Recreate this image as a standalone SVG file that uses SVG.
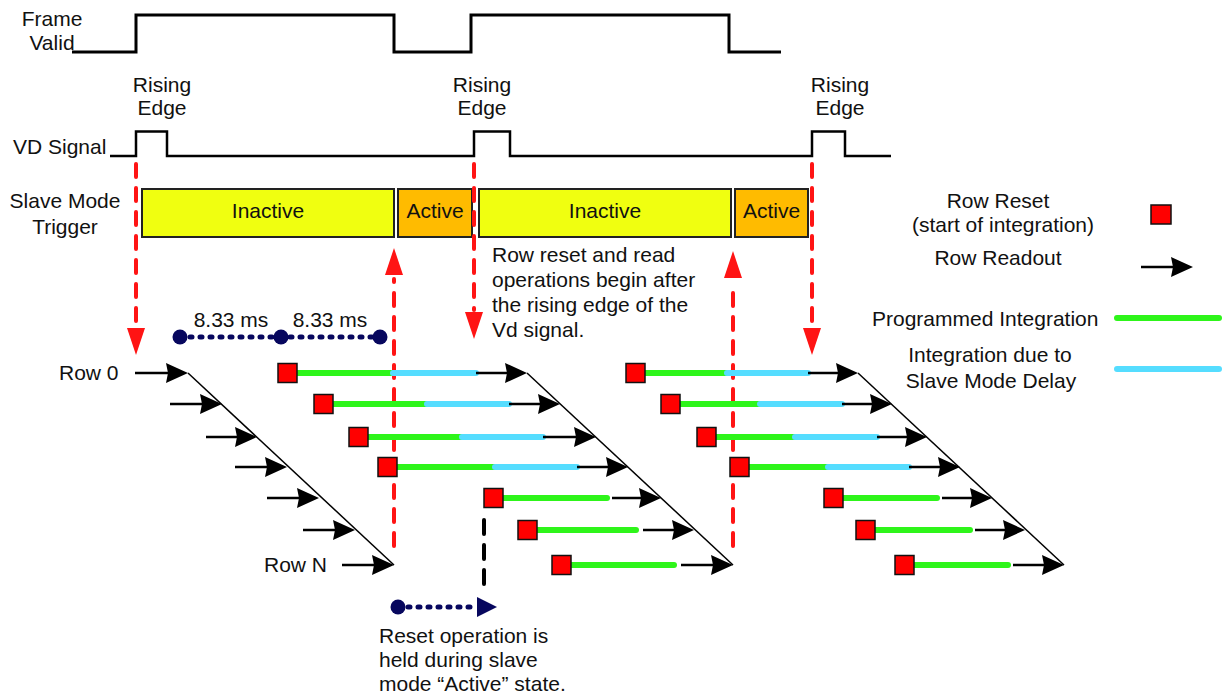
<svg xmlns="http://www.w3.org/2000/svg" width="1222" height="700" viewBox="0 0 1222 700">
<style>
text{font-family:"Liberation Sans",Arial,sans-serif;font-size:21px;fill:#111}
.mid{text-anchor:middle}
.sig{fill:none;stroke:#000;stroke-width:3}
.box{stroke:#222;stroke-width:2}
.inact{fill:#F0FF10}
.act{fill:#FFBB00}
.red{stroke:#FF1414;stroke-width:4;stroke-dasharray:13 11;stroke-linecap:round;fill:none}
.redh{fill:#FF1414}
.rd{stroke:#000;stroke-width:2.5;fill:none;marker-end:url(#ah)}
.diag{stroke:#000;stroke-width:1.5;fill:none}
.g{stroke:#2EF51A;stroke-width:6;stroke-linecap:round;fill:none}
.b{stroke:#55DDFF;stroke-width:6;stroke-linecap:round;fill:none}
.sq{fill:#FF0000;stroke:#111;stroke-width:1.5}
.navy{stroke:#07075E;stroke-width:5;stroke-dasharray:2 8;stroke-linecap:round;fill:none}
.nv{fill:#07075E}
.bd{stroke:#000;stroke-width:4;stroke-dasharray:14 11;stroke-linecap:round;fill:none}
</style>
<defs>
<marker id="ah" markerUnits="userSpaceOnUse" viewBox="0 0 22 20" refX="12" refY="10" markerWidth="22" markerHeight="20" orient="auto">
<path d="M0,0 L22,10 L0,20 L2,10 z" fill="#000"/>
</marker>
</defs>

<g id="frame-valid">
<text class="mid" x="52" y="26">Frame</text>
<text class="mid" x="52" y="50">Valid</text>
<path class="sig" d="M72,52 H136 V15 H394 V52 H471 V15 H729 V52 H781"/>
</g>

<g id="rising-labels">
<text class="mid" x="162" y="92">Rising</text>
<text class="mid" x="162" y="115">Edge</text>
<text class="mid" x="482" y="92">Rising</text>
<text class="mid" x="482" y="115">Edge</text>
<text class="mid" x="840" y="92">Rising</text>
<text class="mid" x="840" y="115">Edge</text>
</g>

<g id="vd-signal">
<text x="13" y="154">VD Signal</text>
<path class="sig" style="stroke-width:2.5" d="M110,156 H136 V131.5 H167 V156 H474 V131.5 H510 V156 H812 V131.5 H845 V156 H891"/>
</g>

<g id="slave-mode-trigger">
<text class="mid" x="65" y="208">Slave Mode</text>
<text class="mid" x="65" y="234">Trigger</text>
<rect class="box inact" x="142" y="189" width="252" height="48"/>
<text class="mid" x="268" y="218">Inactive</text>
<rect class="box act" x="398" y="189" width="74" height="48"/>
<text class="mid" x="435" y="218">Active</text>
<rect class="box inact" x="479" y="189" width="252" height="48"/>
<text class="mid" x="605" y="218">Inactive</text>
<rect class="box act" x="735" y="189" width="73" height="48"/>
<text class="mid" x="771.5" y="218">Active</text>
</g>

<g id="connectors">
<line class="red" x1="136" y1="164" x2="136" y2="326"/>
<polygon class="redh" points="127,328 145,328 136,355"/>
<line class="red" x1="394" y1="546" x2="394" y2="279"/>
<polygon class="redh" points="385,275 403,275 394,248"/>
<line class="red" x1="474" y1="164" x2="474" y2="310"/>
<polygon class="redh" points="465,312 483,312 474,339"/>
<line class="red" x1="733" y1="546" x2="733" y2="282"/>
<polygon class="redh" points="724,278 742,278 733,251"/>
<line class="red" x1="812" y1="164" x2="812" y2="326"/>
<polygon class="redh" points="803,328 821,328 812,355"/>
<line class="bd" x1="484" y1="520" x2="484" y2="587"/>
</g>

<g id="timing-8ms">
<line class="navy" x1="180" y1="337" x2="380" y2="337"/>
<circle class="nv" cx="180" cy="337" r="7.5"/>
<circle class="nv" cx="281" cy="337" r="7.5"/>
<circle class="nv" cx="380" cy="337" r="7.5"/>
<text class="mid" x="231" y="327">8.33 ms</text>
<text class="mid" x="330" y="327">8.33 ms</text>
</g>

<g id="frame-readout-1">
<text x="59" y="380">Row 0</text>
<text x="264" y="572">Row N</text>
<line class="diag" x1="188" y1="373" x2="394" y2="565"/>
<line class="rd" x1="135" y1="373" x2="178" y2="373"/>
<line class="rd" x1="170" y1="404" x2="212" y2="404"/>
<line class="rd" x1="206" y1="437" x2="247" y2="437"/>
<line class="rd" x1="235" y1="467" x2="277" y2="467"/>
<line class="rd" x1="267" y1="498" x2="309" y2="498"/>
<line class="rd" x1="303" y1="530" x2="345" y2="530"/>
<line class="rd" x1="342" y1="565" x2="384" y2="565"/>
</g>

<g id="frame-2">
<line class="diag" x1="527" y1="373" x2="733" y2="565"/>
<line class="g" x1="297" y1="373" x2="393" y2="373"/><line class="b" x1="393" y1="373" x2="476" y2="373"/>
<line class="rd" x1="476" y1="373" x2="517" y2="373"/>
<line class="g" x1="333" y1="404" x2="427" y2="404"/><line class="b" x1="427" y1="404" x2="509" y2="404"/>
<line class="rd" x1="509" y1="404" x2="550" y2="404"/>
<line class="g" x1="368" y1="437" x2="462" y2="437"/><line class="b" x1="462" y1="437" x2="543" y2="437"/>
<line class="rd" x1="543" y1="437" x2="586" y2="437"/>
<line class="g" x1="397" y1="467" x2="495" y2="467"/><line class="b" x1="495" y1="467" x2="577" y2="467"/>
<line class="rd" x1="577" y1="467" x2="618" y2="467"/>
<line class="g" x1="503" y1="498" x2="607" y2="498"/>
<line class="rd" x1="612" y1="498" x2="651" y2="498"/>
<line class="g" x1="537" y1="530" x2="636" y2="530"/>
<line class="rd" x1="643" y1="530" x2="684" y2="530"/>
<line class="g" x1="571" y1="565" x2="674" y2="565"/>
<line class="rd" x1="681" y1="565" x2="723" y2="565"/>
<rect class="sq" x="278" y="363.5" width="19" height="19"/>
<rect class="sq" x="314" y="394.5" width="19" height="19"/>
<rect class="sq" x="349" y="427.5" width="19" height="19"/>
<rect class="sq" x="378" y="457.5" width="19" height="19"/>
<rect class="sq" x="484" y="488.5" width="19" height="19"/>
<rect class="sq" x="518" y="520.5" width="19" height="19"/>
<rect class="sq" x="552" y="555.5" width="19" height="19"/>
</g>

<g id="frame-3">
<line class="diag" x1="858" y1="373" x2="1064" y2="565"/>
<line class="g" x1="645" y1="373" x2="727" y2="373"/><line class="b" x1="727" y1="373" x2="808" y2="373"/>
<line class="rd" x1="808" y1="373" x2="848" y2="373"/>
<line class="g" x1="680" y1="404" x2="760" y2="404"/><line class="b" x1="760" y1="404" x2="842" y2="404"/>
<line class="rd" x1="842" y1="404" x2="882" y2="404"/>
<line class="g" x1="716" y1="437" x2="795" y2="437"/><line class="b" x1="795" y1="437" x2="877" y2="437"/>
<line class="rd" x1="877" y1="437" x2="917" y2="437"/>
<line class="g" x1="749" y1="467" x2="828" y2="467"/><line class="b" x1="828" y1="467" x2="909" y2="467"/>
<line class="rd" x1="909" y1="467" x2="950" y2="467"/>
<line class="g" x1="843" y1="498" x2="937" y2="498"/>
<line class="rd" x1="942" y1="498" x2="982" y2="498"/>
<line class="g" x1="875" y1="530" x2="970" y2="530"/>
<line class="rd" x1="975" y1="530" x2="1015" y2="530"/>
<line class="g" x1="914" y1="565" x2="1008" y2="565"/>
<line class="rd" x1="1013" y1="565" x2="1054" y2="565"/>
<rect class="sq" x="626" y="363.5" width="19" height="19"/>
<rect class="sq" x="661" y="394.5" width="19" height="19"/>
<rect class="sq" x="697" y="427.5" width="19" height="19"/>
<rect class="sq" x="730" y="457.5" width="19" height="19"/>
<rect class="sq" x="824" y="488.5" width="19" height="19"/>
<rect class="sq" x="856" y="520.5" width="19" height="19"/>
<rect class="sq" x="895" y="555.5" width="19" height="19"/>
</g>

<g id="note-vd">
<text x="492" y="262">Row reset and read</text>
<text x="492" y="287">operations begin after</text>
<text x="492" y="312">the rising edge of the</text>
<text x="492" y="337">Vd signal.</text>
</g>

<g id="note-hold">
<line class="navy" x1="398" y1="607" x2="475" y2="607"/>
<circle class="nv" cx="398" cy="607" r="7.5"/>
<polygon class="nv" points="477,597 497,607 477,617"/>
<text x="379" y="643">Reset operation is</text>
<text x="379" y="667">held during slave</text>
<text x="379" y="691">mode “Active” state.</text>
</g>

<g id="legend">
<text class="mid" x="998" y="208">Row Reset</text>
<text class="mid" x="1003" y="232">(start of integration)</text>
<rect class="sq" x="1151" y="205" width="20" height="19"/>
<text class="mid" x="998" y="265">Row Readout</text>
<line class="rd" x1="1141" y1="267" x2="1183" y2="267"/>
<text x="872" y="326">Programmed Integration</text>
<line class="g" x1="1117" y1="318" x2="1219" y2="318"/>
<text class="mid" x="990" y="362">Integration due to</text>
<text class="mid" x="991" y="388">Slave Mode Delay</text>
<line class="b" x1="1117" y1="369" x2="1219" y2="369"/>
</g>
</svg>
